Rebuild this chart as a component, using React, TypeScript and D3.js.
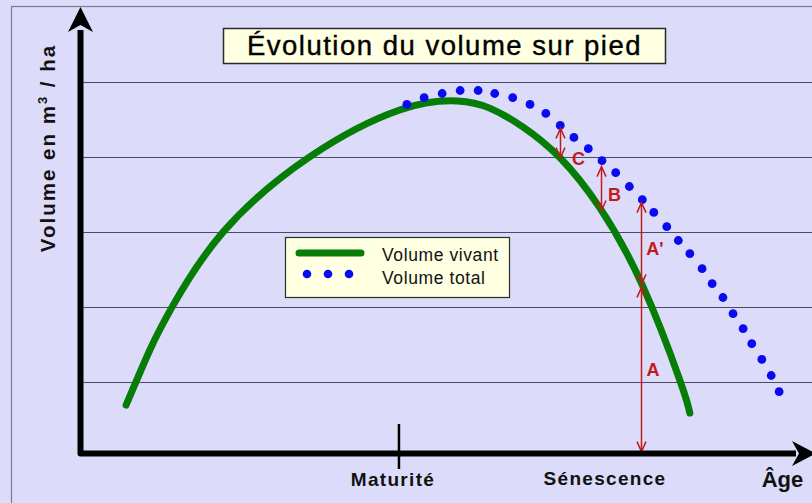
import React from "react";
import * as d3 from "d3";

// ---- Data (age units 0..100, volume units 0..100) ----
const liveAge = [6.4, 9.7, 12.8, 19.9, 31.9, 44.4, 52.4, 56.9, 61.5, 66.7, 72.2, 78.1, 83.3, 84.7];
const liveVol = [13.7, 28.4, 39.9, 59.9, 79.9, 92.4, 94.8, 92.9, 87.9, 79.6, 66.3, 45.7, 20.4, 11.6];

const totalAge = [45.4, 47.8, 50.3, 52.8, 55.3, 57.6, 60.1, 62.5, 64.7, 66.7, 68.6, 70.6, 72.5, 74.4, 76.3, 78.1, 79.7, 81.5, 83.1, 84.7, 86.4, 87.8, 89.3, 90.7, 92.1, 93.3, 94.7, 96.0, 97.1];
const totalVol = [93.9, 95.7, 96.8, 97.6, 97.6, 96.8, 95.7, 93.9, 91.5, 88.3, 85.1, 82.1, 78.9, 75.7, 72.0, 68.5, 65.1, 61.3, 57.6, 54.1, 50.1, 46.1, 42.4, 38.1, 34.1, 30.1, 25.9, 21.6, 17.3];

const gridValues = [20, 40, 60, 80, 100];

const arrowLabels = ["C", "B", "A'", "A"];
const arrowAge = [66.7, 72.4, 77.9, 77.9];
const arrowTop = [87.5, 77.3, 67.7, 45.1];
const arrowBottom = [79.7, 65.6, 45.9, 1.3];

const milestoneLabels = ["Maturité", "Sénescence"];
const milestoneAge = [44.3, 72.9];

const title = "Évolution du volume sur pied";
const legendLabels = ["Volume vivant", "Volume total"];

// ---- Layout ----
const W = 812;
const H = 503;
const x = d3.scaleLinear().domain([0, 100]).range([80, 800]);
const y = d3.scaleLinear().domain([0, 100]).range([456.5, 81.5]);

const BG = "#DCDCFA";
const GREEN = "#067D06";
const BLUE = "#0A0AF0";
const RED = "#C41A1A";
const BOX = "#FFFFE1";

const labelDx = [18, 13, 13.5, 11.5];
const labelDy = [22, 12, 11, 6];

export default function App() {
  const liveData = liveAge.map((a, i) => [a, liveVol[i]] as [number, number]);
  const line = d3
    .line<[number, number]>()
    .x((d) => x(d[0]))
    .y((d) => y(d[1]))
    .curve(d3.curveNatural);

  const axisY = 453.5;
  const axisX = 80.5;

  const head = (xx: number, yy: number, dir: number) =>
    `M${xx - 4.5},${yy - dir * 10} L${xx},${yy} L${xx + 4.5},${yy - dir * 10}`;

  return (
    <svg
      width={W}
      height={H}
      style={{ position: "absolute", left: 0, top: 0, display: "block" }}
      fontFamily="'Liberation Sans', Arial, sans-serif"
    >
      <rect x={0} y={0} width={W} height={H} fill={BG} />
      <rect x={11.5} y={6.5} width={W} height={H} fill="none" stroke="#7a7a8a" strokeWidth={1.2} />

      {/* gridlines */}
      {gridValues.map((v) => (
        <line key={v} x1={83} x2={W} y1={Math.round(y(v)) + 0.5} y2={Math.round(y(v)) + 0.5} stroke="#4a4a66" strokeWidth={1} />
      ))}

      {/* title */}
      <rect x={223.5} y={28.5} width={442} height={35} fill={BOX} stroke="#2a2a2a" strokeWidth={1.5} />
      <text x={444.5} y={55} textAnchor="middle" fontSize={27.5} letterSpacing={1.5} fill="#000" stroke="#000" strokeWidth={0.4}>
        {title}
      </text>

      {/* y label */}
      <text
        transform={`translate(55,148) rotate(-90)`}
        textAnchor="middle"
        fontSize={20.5}
        fontWeight="bold"
        letterSpacing={2}
        fill="#111"
      >
        Volume en m
        <tspan fontSize={13} dy={-8}>3</tspan>
        <tspan dy={8}> / ha</tspan>
      </text>

      {/* legend */}
      <rect x={285.5} y={237.5} width={224} height={60} fill={BOX} stroke="#2a2a2a" strokeWidth={1.2} />
      <line x1={299} x2={361} y1={253} y2={253} stroke={GREEN} strokeWidth={7} strokeLinecap="round" />
      {[307, 328, 349].map((cx) => (
        <circle key={cx} cx={cx} cy={274} r={4.3} fill={BLUE} />
      ))}
      <text x={382} y={261} fontSize={17.5} letterSpacing={0.6} fill="#111">{legendLabels[0]}</text>
      <text x={382} y={284} fontSize={17.5} letterSpacing={0.6} fill="#111">{legendLabels[1]}</text>

      {/* live volume */}
      <path d={line(liveData) || ""} fill="none" stroke={GREEN} strokeWidth={7} strokeLinecap="round" strokeLinejoin="round" />

      {/* total volume dots */}
      {totalAge.map((a, i) => (
        <circle key={i} cx={x(a)} cy={y(totalVol[i])} r={4.4} fill={BLUE} />
      ))}

      {/* red arrows */}
      {arrowLabels.map((lab, i) => {
        const ax = Math.round(x(arrowAge[i])) + 0.5;
        const y1 = y(arrowTop[i]);
        const y2 = y(arrowBottom[i]);
        return (
          <g key={lab}>
            <line x1={ax} x2={ax} y1={y1} y2={y2} stroke={RED} strokeWidth={1.5} />
            <path d={head(ax, y1, -1)} fill="none" stroke={RED} strokeWidth={1.5} />
            <path d={head(ax, y2, 1)} fill="none" stroke={RED} strokeWidth={1.5} />
            <text
              x={ax + labelDx[i]}
              y={(y1 + y2) / 2 + labelDy[i]}
              textAnchor="middle"
              fontSize={18}
              fontWeight="bold"
              fill={RED}
            >
              {lab}
            </text>
          </g>
        );
      })}

      {/* axes */}
      <path
        d={`M${axisX},30 L${axisX},${axisY} L796,${axisY}`}
        fill="none"
        stroke="#000"
        strokeWidth={6}
        strokeLinejoin="round"
      />
      <path d={`M${axisX},7 L68,32 L${axisX},25 L93,32 Z`} fill="#000" />
      <path d={`M816,${axisY} L792,441 L799,${axisY} L792,466 Z`} fill="#000" />

      {/* maturity tick */}
      <line x1={x(milestoneAge[0])} x2={x(milestoneAge[0])} y1={424} y2={469} stroke="#000" strokeWidth={2.5} />

      {/* x labels */}
      <text x={393} y={486} textAnchor="middle" fontSize={19} fontWeight="bold" letterSpacing={1.3} fill="#111">
        {milestoneLabels[0]}
      </text>
      <text x={605} y={485} textAnchor="middle" fontSize={19} fontWeight="bold" letterSpacing={1.3} fill="#111">
        {milestoneLabels[1]}
      </text>
      <text x={782.5} y={487} textAnchor="middle" fontSize={22} fontWeight="bold" fill="#111">
        Âge
      </text>
    </svg>
  );
}
